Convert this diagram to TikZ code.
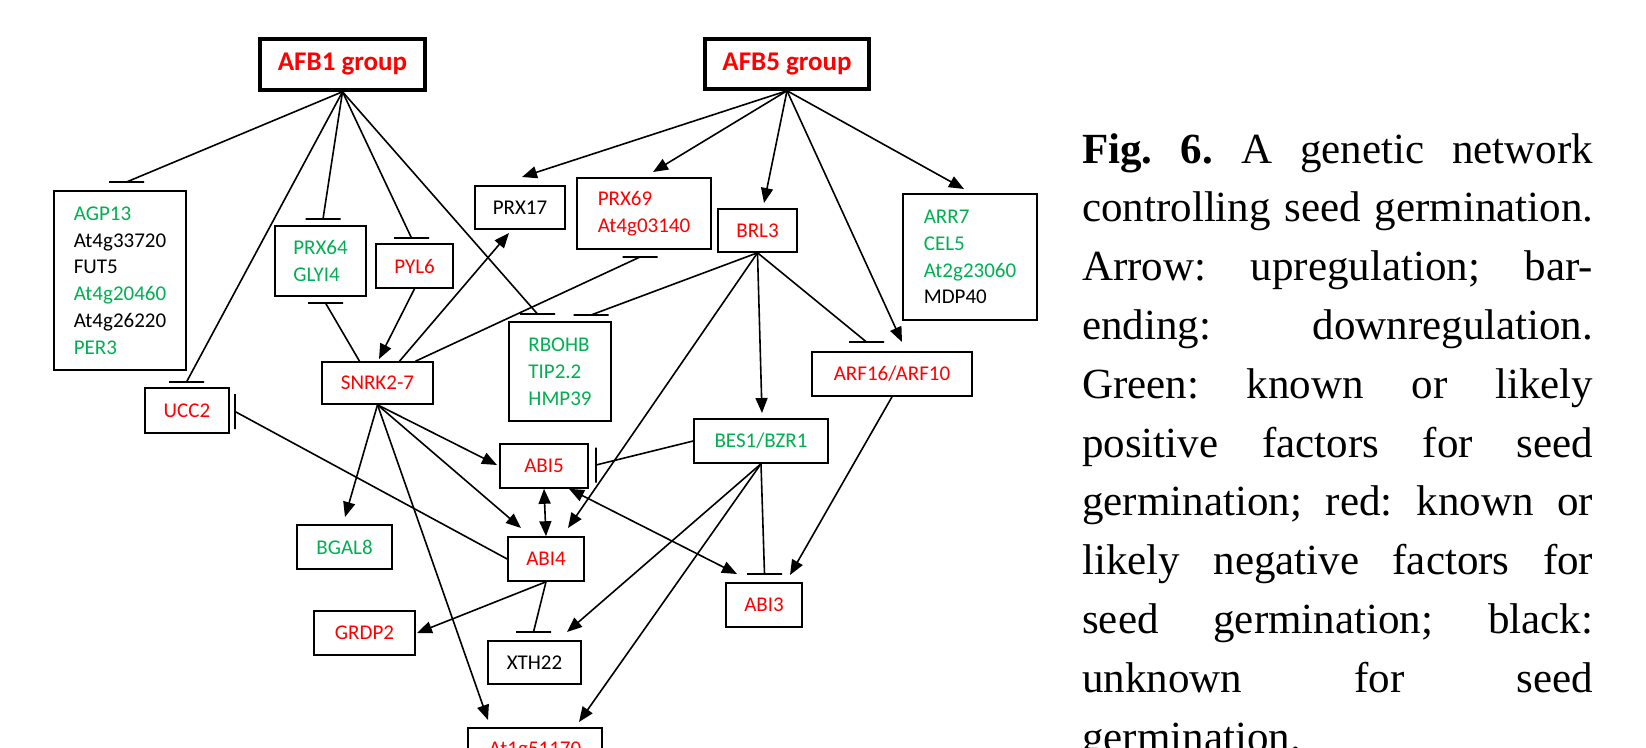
\documentclass[tikz,border=0pt]{standalone}
\usepackage{fontspec}
\setmainfont{Liberation Serif}
\newfontfamily\diagfont{Carlito}
\usetikzlibrary{arrows.meta}
\definecolor{gr}{RGB}{0,176,80}
\definecolor{rd}{RGB}{255,0,0}
\newcommand\capline[1]{\makebox[511pt][s]{#1}}
\frenchspacing
\begin{document}
\begin{tikzpicture}[x=1pt,y=-1pt,
  box/.style={draw, line width=1.6pt, inner sep=0pt, font=\diagfont\fontsize{21}{26.8}\selectfont, align=center},
  grp/.style={draw, line width=3.5pt, inner sep=0pt, font=\diagfont\bfseries\fontsize{27}{32}\selectfont, text=rd},
  hbar/.style={draw, line width=1.6pt, minimum width=35pt, minimum height=0pt, inner sep=0pt, outer sep=0pt},
  vbar/.style={draw, line width=1.6pt, minimum height=35pt, minimum width=0pt, inner sep=0pt, outer sep=0pt},
  link/.style={line width=1.6pt},
  act/.style={link, -{Triangle[length=15pt,width=12pt]}},
  dact/.style={link, {Triangle[length=15pt,width=12pt]}-{Triangle[length=15pt,width=12pt]}},
  capl/.style={anchor=base west, inner sep=0pt, font=\fontsize{43}{58.8}\selectfont}
]
\useasboundingbox (0,0) rectangle (1646,747);
\clip (0,0) rectangle (1646,747);

% group nodes
\node[grp, minimum width=165pt, minimum height=51pt] (afb1) at (342.5,64.5) {AFB1 group};
\node[grp, minimum width=164pt, minimum height=50pt] (afb5) at (787,64) {AFB5 group};

% gene boxes
\node[box, minimum width=132pt, minimum height=179pt, align=left] (agp) at (120,280.5)
  {\textcolor{gr}{AGP13}\\At4g33720\\FUT5\\\textcolor{gr}{At4g20460}\\At4g26220\\\textcolor{gr}{PER3}};
\node[box, text=gr, minimum width=91pt, minimum height=70pt, align=left] (prx64) at (320.5,261) {PRX64\\GLYI4};
\node[box, text=rd, minimum width=77pt, minimum height=44pt] (pyl6) at (414.5,266) {PYL6};
\node[box, text=rd, minimum width=84pt, minimum height=45pt] (ucc2) at (187,410.5) {UCC2};
\node[box, text=rd, minimum width=111pt, minimum height=42pt] (snrk) at (377.5,383) {SNRK2-7};
\node[box, minimum width=90pt, minimum height=43pt] (prx17) at (520,207.5) {PRX17};
\node[box, text=rd, minimum width=134pt, minimum height=71pt, align=left] (prx69) at (644,213.5) {PRX69\\At4g03140};
\node[box, text=rd, minimum width=79pt, minimum height=43pt] (brl3) at (757.5,230.5) {BRL3};
\node[box, minimum width=134pt, minimum height=126pt, align=left] (arr7) at (970,257)
  {\textcolor{gr}{ARR7}\\\textcolor{gr}{CEL5}\\\textcolor{gr}{At2g23060}\\MDP40};
\node[box, text=gr, minimum width=102pt, minimum height=99pt, align=left] (rbohb) at (560,371.5) {RBOHB\\TIP2.2\\HMP39};
\node[box, text=rd, minimum width=160pt, minimum height=44pt] (arf) at (892,374) {ARF16/ARF10};
\node[box, text=gr, minimum width=134pt, minimum height=44pt] (bes1) at (761,441) {BES1/BZR1};
\node[box, text=rd, minimum width=88pt, minimum height=44pt] (abi5) at (544,466) {ABI5};
\node[box, text=rd, minimum width=76pt, minimum height=44pt] (abi4) at (546,559) {ABI4};
\node[box, text=gr, minimum width=95pt, minimum height=44pt] (bgal8) at (344.5,547) {BGAL8};
\node[box, text=rd, minimum width=101pt, minimum height=44pt] (grdp2) at (364.5,633) {GRDP2};
\node[box, minimum width=93pt, minimum height=43pt] (xth22) at (534.5,662.5) {XTH22};
\node[box, text=rd, minimum width=76pt, minimum height=44pt] (abi3) at (764,605) {ABI3};
\node[box, text=rd, minimum width=134pt, minimum height=44pt] (at1g) at (535,750) {At1g51170};

% inhibition bars
\node[hbar] (bAGP) at (126.5,182) {};
\node[hbar] (bPRX64t) at (323,219) {};
\node[hbar] (bPYL6) at (411.5,238) {};
\node[hbar] (bUCC2t) at (186.5,382) {};
\node[hbar] (bRB1) at (537.5,314) {};
\node[hbar] (bPRX64b) at (325.5,303) {};
\node[hbar] (bPRX69) at (640,257) {};
\node[hbar] (bRB2) at (591,315) {};
\node[hbar] (bARF) at (866.5,342) {};
\node[hbar] (bABI3) at (764.5,574) {};
\node[hbar] (bXTH) at (533.5,632) {};
\node[vbar] (bABI5) at (596,465) {};
\node[vbar] (bUCC2r) at (235,411.5) {};

% inhibition links
\draw[link] (afb1.south) -- (bAGP.center);
\draw[link] (afb1.south) -- (bPRX64t.center);
\draw[link] (afb1.south) -- (bPYL6.center);
\draw[link] (afb1.south) -- (bUCC2t.center);
\draw[link] (afb1.south) -- (bRB1.center);
\draw[link] ([xshift=-18pt]snrk.north) -- (bPRX64b.center);
\draw[link] ([xshift=38pt]snrk.north) -- (bPRX69.center);
\draw[link] (brl3.south) -- (bRB2.center);
\draw[link] (brl3.south) -- (bARF.center);
\draw[link] (bes1.south) -- (bABI3.center);
\draw[link] (abi4.south) -- (bXTH.center);
\draw[link] (bes1.west) -- (bABI5.center);
\draw[link] (abi4.west) -- (bUCC2r.center);

% arrow tips
\coordinate (tPRX17) at (522,177);
\coordinate (tPRX69) at (653,172);
\coordinate (tBRL3) at (764,203);
\coordinate (tARF) at (902,342);
\coordinate (tARR7) at (964,189);
\coordinate (tSNRK) at (379,359);
\coordinate (tPRX17b) at (509,233);
\coordinate (tBGAL8) at (345,517);
\coordinate (tABI5) at (497,465);
\coordinate (tABI4a) at (521,528);
\coordinate (tAT1Ga) at (488,720);
\coordinate (tABI4b) at (568,528);
\coordinate (tBES1) at (762,413);
\coordinate (tABI3a) at (790,575);
\coordinate (tABI3b) at (737,574);
\coordinate (tGRDP2) at (417,633);
\coordinate (tXTH22) at (567,632);
\coordinate (tAT1Gb) at (579,722);

% activation links
\draw[act] (afb5.south) -- (tPRX17);
\draw[act] (afb5.south) -- (tPRX69);
\draw[act] (afb5.south) -- (tBRL3);
\draw[act] (afb5.south) -- (tARF);
\draw[act] (afb5.south) -- (tARR7);
\draw[act] (pyl6.south) -- (tSNRK);
\draw[act] ([xshift=22pt]snrk.north) -- (tPRX17b);
\draw[act] (snrk.south) -- (tBGAL8);
\draw[act] (snrk.south) -- (tABI5);
\draw[act] (snrk.south) -- (tABI4a);
\draw[act] (snrk.south) -- (tAT1Ga);
\draw[act] (brl3.south) -- (tABI4b);
\draw[act] (brl3.south) -- (tBES1);
\draw[act] (arf.south) -- (tABI3a);
\draw[dact] (abi5.south) -- (abi4.north);
\draw[dact] ([xshift=25pt]abi5.south) -- (tABI3b);
\draw[act] (abi4.south) -- (tGRDP2);
\draw[act] (bes1.south) -- (tXTH22);
\draw[act] (bes1.south) -- (tAT1Gb);

% caption
\node[capl] (c1) at (1082,163) {\capline{\textbf{Fig. 6.} A genetic network}};
\node[capl] (c2) at (1082,221.8) {\capline{controlling seed germination.}};
\node[capl] (c3) at (1082,280.6) {\capline{Arrow: upregulation; bar-}};
\node[capl] (c4) at (1082,339.4) {\capline{ending: downregulation.}};
\node[capl] (c5) at (1082,398.2) {\capline{Green: known or likely}};
\node[capl] (c6) at (1082,457) {\capline{positive factors for seed}};
\node[capl] (c7) at (1082,515.8) {\capline{germination; red: known or}};
\node[capl] (c8) at (1082,574.6) {\capline{likely negative factors for}};
\node[capl] (c9) at (1082,633.4) {\capline{seed germination; black:}};
\node[capl] (c10) at (1082,692.2) {\capline{unknown for seed}};
\node[capl] (c11) at (1082,751) {germination.};
\end{tikzpicture}
\end{document}
